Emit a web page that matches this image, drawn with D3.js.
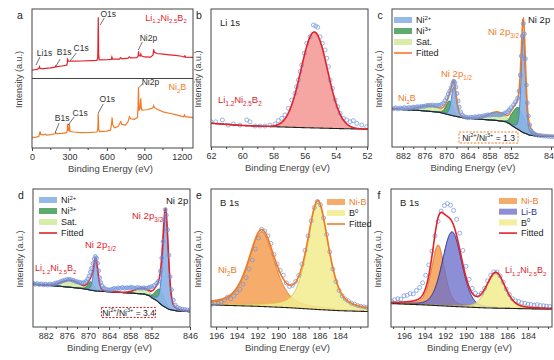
<!DOCTYPE html>
<html>
<head>
<meta charset="utf-8">
<script src="https://cdn.jsdelivr.net/npm/d3@7"></script>
<style>
  body { margin: 0; background: #fff; }
  text { font-family: "Liberation Sans", Arial, sans-serif; }
</style>
</head>
<body>
<script>
// ---------- data ----------

// a: survey spectra  [binding energy, intensity]
const surveyTicks = [0, 300, 600, 900, 1200]
const surveyLi = [[0,56],[20,56.3],[40,56.6],[55,57.2],[60,58.5],[65,57.4],[80,57],[110,57.3],[150,57.6],[185,58.2],[190,59],[195,58.3],[240,59],[278,59.6],[283,61],[285,64.5],[288,63],[292,62.4],[330,62.5],[400,62.6],[470,62.8],[520,63],[527,65],[531,94],[534,68],[538,63.4],[600,63.5],[635,63.8],[640,65.5],[645,64],[700,64],[710,65],[720,64.2],[770,64.6],[780,65.6],[790,64.8],[840,65],[850,66],[854,69.5],[858,66.5],[868,66.2],[872,67.5],[876,66.3],[900,65.5],[950,65.4],[970,67],[975,71],[980,69],[1000,68],[1050,67.5],[1100,67],[1150,66.6],[1200,66],[1220,65.5],[1225,66.3],[1230,65.4],[1290,65.2]]
const surveyNi2B = [[0,7.4],[30,7.8],[55,8.3],[60,10.5],[65,12],[70,9.8],[90,9.5],[110,10],[115,9.2],[150,9.6],[185,10.2],[190,11],[195,10.3],[240,10.5],[278,11],[283,13],[285,17.5],[288,13],[295,12.5],[300,17.3],[304,12],[330,11.5],[400,11],[470,11.2],[520,11.5],[527,13],[531,25],[534,14],[540,11.8],[600,12.2],[630,13],[638,18],[642,22],[646,17],[660,14.6],[690,15.5],[705,18],[712,19],[720,17],[750,16.5],[770,19],[780,22.5],[790,21],[820,20.6],[845,22],[850,30],[853,43.7],[856,33],[859,27.3],[866,28],[870,33],[872,35.8],[875,30],[880,27.3],[920,27.5],[960,28.5],[970,29],[975,30.5],[980,29.2],[1000,28],[1050,26],[1100,25],[1150,24],[1200,22.8],[1215,22.5],[1222,23.8],[1228,22.6],[1290,21.8]]
// peak labels: text position and leader line, in data units
const surveyLiNotes = [
  {t: 'Li1s', x: 100, y: 66.2, l: [[32, 59.7], [64, 65.5]]},
  {t: 'B1s', x: 257, y: 66.9, l: [[193, 59.0], [225, 64.0]]},
  {t: 'C1s', x: 394, y: 69.5, l: [[305, 62.6], [354, 68.3]]},
  {t: 'O1s', x: 611, y: 94.2, l: [[547, 88.5], [579, 93.5]]},
  {t: 'Ni2p', x: 933, y: 77.0, l: [[852, 70.5], [884, 76.3]]}
]
const surveyNiNotes = [
  {t: 'B1s', x: 241, y: 19.1, l: [[185, 10.8], [217, 18.0]]},
  {t: 'C1s', x: 386, y: 22.7, l: [[289, 16.5], [338, 22.3]]},
  {t: 'O1s', x: 603, y: 33.1, l: [[531, 25.2], [571, 31.7]]},
  {t: 'Ni2p', x: 949, y: 45.0, l: [[855, 43.4], [885, 46.0]]}
]

// b: Li 1s
const liTicks = [62, 60, 58, 56, 54, 52]
const liBackground = [[62,17.2],[60,15.6],[58,14.7],[56,14.0],[54,13.4],[51.9,12.9]]
const liPeaks = [{name: 'Li', c: 55.38, h: 69.5, w: 2.0, eta: 0}]
const liPoints = [[62.0,18.3],[61.7,18.3],[61.27,19.6],[60.9,15.9],[60.57,16.7],[60.14,15.9],[59.71,19.6],[59.5,18.3],[59.18,15.2],[58.86,15.2],[58.54,15.2],[58.22,15.9],[57.9,16.7],[57.69,19.1],[57.47,20.8],[57.26,23.2],[57.04,28],[56.83,34],[56.62,38.9],[56.51,43.7],[56.4,48.6],[56.29,54.6],[56.19,59.4],[56.02,67.9],[55.87,75.1],[55.65,79.9],[55.44,88.4],[55.29,87.7],[55.16,86.7],[55.01,79.9],[54.87,75.1],[54.69,70.3],[54.58,64.3],[54.48,58.2],[54.37,48.6],[54.22,42.5],[54.05,34],[53.88,29.2],[53.73,24.4],[53.52,20.8],[53.3,19.6],[53.09,18.3],[52.88,19.1],[52.66,17.1],[52.34,15.9],[52.02,14.7]]

// c, d: Ni 2p
const ni2pTicks = [882, 876, 870, 864, 858, 852, 846]
const ni2pMinor = [879, 873, 867, 861, 855]
const ni2bBackground = [[885.05,27.5],[878,26.6],[872,25.2],[868,22.6],[865,21],[860,20],[856,19.2],[853.5,18.3],[852.2,16.5],[851.2,13.5],[850.2,10.5],[849.2,8.6],[848,7.8],[844,7.5]]
const ni2bPeaks = [
  {name: 'Sat', c: 855.8, h: 6, w: 6, eta: 0},
  {name: 'Sat', c: 874.5, h: 4, w: 7, eta: 0},
  {name: 'Ni3+', c: 850.85, h: 16, w: 2.2, eta: 0.2},
  {name: 'Ni3+', c: 869.1, h: 10, w: 2.2, eta: 0.2},
  {name: 'Ni2+', c: 850.15, h: 70, w: 0.75, eta: 0.3},
  {name: 'Ni2+', c: 867.85, h: 21, w: 1.6, eta: 0.3}
]
const ni2bPoints = [[884.6,27.8],[884.0,28.4],[883.4,27.6],[882.8,28.2],[882.2,27.9],[881.6,28.5],[881.0,28.1],[880.4,28.6],[879.8,28.3],[879.2,28.9],[878.6,28.7],[878.0,29.2],[877.4,29.0],[876.8,29.5],[876.2,29.4],[875.6,29.9],[875.0,30.2],[874.4,30.1],[873.8,30.4],[873.2,30.0],[872.6,30.3],[872.0,30.1],[871.4,30.8],[870.8,31.6],[870.3,33.5],[869.8,35.8],[869.4,38.3],[869.0,40.6],[868.6,43.0],[868.2,45.8],[867.9,47.6],[867.6,46.5],[867.3,43.5],[867.0,38.8],[866.7,33.4],[866.4,28.9],[866.0,25.4],[865.5,23.0],[865.0,22.0],[864.4,21.5],[863.8,21.2],[863.2,21.6],[862.6,21.3],[862.0,21.9],[861.4,21.7],[860.8,22.2],[860.2,22.0],[859.6,22.6],[859.0,22.8],[858.4,23.3],[857.8,23.1],[857.2,23.6],[856.6,23.4],[856.0,23.5],[855.4,23.2],[854.8,23.4],[854.2,23.9],[853.6,24.6],[853.0,25.5],[852.5,26.8],[852.0,28.4],[851.6,30.6],[851.3,32.8],[851.0,35.4],[850.8,40.5],[850.6,52.0],[850.45,66.0],[850.3,80.5],[850.15,89.5],[850.0,82.0],[849.85,64.0],[849.7,45.0],[849.55,32.0],[849.4,22.5],[849.2,16.0],[849.0,12.0],[848.7,10.2],[848.4,9.2],[848.0,8.6],[847.6,8.3],[847.2,8.0],[846.8,7.9],[846.4,7.7],[846.0,7.6],[845.6,7.5],[845.2,7.6]]

const lnbBackground = [[885.6,31],[878,29.5],[872,28],[868,26.2],[864,25.5],[858,24.6],[854,23.8],[852.5,22.5],[851.3,19.5],[850.3,15.5],[849.3,12.8],[848,11.6],[846,11.1]]
const lnbPeaks = [
  {name: 'Sat', c: 854.5, h: 4, w: 5, eta: 0},
  {name: 'Sat', c: 875, h: 5, w: 6, eta: 0},
  {name: 'Ni3+', c: 850.7, h: 10, w: 1.6, eta: 0.2},
  {name: 'Ni3+', c: 869.2, h: 6, w: 2, eta: 0.2},
  {name: 'Ni2+', c: 849.8, h: 67, w: 1.0, eta: 0.3},
  {name: 'Ni2+', c: 867.8, h: 22, w: 1.5, eta: 0.3}
]
const lnbPoints = [[885.5,31.6],[885.0,31.0],[884.4,31.5],[883.8,30.8],[883.2,31.2],[882.6,30.6],[882.0,31.0],[881.4,30.5],[880.8,31.1],[880.2,30.7],[879.6,31.4],[879.0,31.9],[878.4,32.2],[877.8,32.8],[877.2,33.5],[876.6,33.9],[876.0,34.4],[875.4,34.6],[874.8,34.2],[874.2,33.8],[873.6,33.1],[873.0,32.7],[872.4,32.4],[871.8,31.9],[871.2,32.2],[870.6,33.0],[870.1,34.6],[869.7,36.9],[869.3,39.8],[869.0,42.5],[868.6,46.0],[868.2,49.3],[867.9,51.0],[867.6,49.8],[867.3,46.2],[867.0,40.8],[866.7,35.6],[866.4,32.2],[866.0,29.8],[865.5,28.3],[865.0,27.4],[864.4,27.0],[863.8,26.8],[863.2,27.4],[862.6,27.9],[862.0,27.6],[861.4,28.3],[860.8,28.0],[860.2,28.6],[859.6,28.1],[859.0,28.5],[858.4,28.2],[857.8,28.8],[857.2,28.4],[856.6,28.0],[856.0,28.6],[855.4,28.3],[854.8,28.1],[854.2,28.4],[853.6,28.0],[853.0,28.3],[852.5,28.8],[852.0,29.2],[851.6,30.0],[851.2,31.5],[850.9,33.2],[850.6,40.5],[850.4,50.0],[850.2,62.0],[850.0,77.5],[849.85,85.0],[849.7,81.0],[849.5,70.5],[849.3,52.0],[849.1,36.5],[848.9,27.0],[848.6,19.5],[848.3,15.8],[848.0,14.2],[847.6,13.4],[847.2,12.9],[846.8,12.6],[846.4,12.4],[846.0,12.3]]

// e, f: B 1s
const b1sTicks = [196, 194, 192, 190, 188, 186, 184]
const eMinor = [195, 193, 191, 189, 187, 185, 183, 182]
const fMinor = [197, 195, 193, 191, 189, 187, 185, 183, 182]
const ni2bBoronBackground = [[196.5,16],[192,15],[189,14],[186,12.6],[184,11.8],[181.3,11.2]]
const ni2bBoronPeaks = [
  {name: 'Ni-B', c: 191.6, h: 54, w: 3.0, eta: 0.5},
  {name: 'B0', c: 186.15, h: 77, w: 2.4, eta: 0.5}
]
const ni2bBoronPoints = [[196.4,16.5],[196.1,17.4],[195.8,17.0],[195.5,18.2],[195.2,19.5],[194.9,21.6],[194.6,20.4],[194.3,22.5],[194.0,24.8],[193.7,27.3],[193.4,31.0],[193.1,35.8],[192.8,42.0],[192.5,48.5],[192.2,56.5],[191.9,64.5],[191.6,70.8],[191.3,69.5],[191.0,66.0],[190.7,60.5],[190.4,52.5],[190.1,45.6],[189.8,41.0],[189.5,37.5],[189.2,32.0],[188.9,29.4],[188.6,30.2],[188.3,33.0],[188.0,37.5],[187.7,45.5],[187.4,55.5],[187.1,66.0],[186.8,77.0],[186.5,86.5],[186.2,91.0],[185.9,88.5],[185.6,79.0],[185.3,67.0],[185.0,54.5],[184.7,42.0],[184.4,33.0],[184.1,26.5],[183.8,22.5],[183.5,20.3],[183.2,18.9],[182.9,17.2],[182.6,16.5],[182.3,15.5],[182.0,15.0],[181.7,14.6],[181.4,14.2]]

const lnbBoronBackground = [[197.3,17],[194,16],[191,14.8],[188,13.8],[184,13.2],[181.6,13]]
const lnbBoronPeaks = [
  {name: 'Ni-B', c: 192.7, h: 44, w: 1.5, eta: 0.4},
  {name: 'Li-B', c: 191.35, h: 54, w: 2.2, eta: 0.2},
  {name: 'B0', c: 187.1, h: 25, w: 2.1, eta: 0.3}
]
const lnbBoronPoints = [[197.2,18.5],[196.9,19.8],[196.6,20.5],[196.3,20.2],[196.0,22.6],[195.7,23.0],[195.4,24.2],[195.1,24.0],[194.8,26.5],[194.5,28.6],[194.2,32.0],[193.9,37.5],[193.6,45.0],[193.3,55.0],[193.0,66.0],[192.7,76.5],[192.4,84.0],[192.1,88.0],[191.8,89.5],[191.5,88.2],[191.2,84.5],[190.9,78.0],[190.6,68.0],[190.3,55.5],[190.0,44.0],[189.7,34.5],[189.4,28.0],[189.1,24.5],[188.8,23.0],[188.5,24.5],[188.2,28.0],[187.9,33.5],[187.6,37.5],[187.3,40.0],[187.0,39.8],[186.7,37.0],[186.4,32.5],[186.1,27.5],[185.8,23.5],[185.5,20.5],[185.2,19.0],[184.9,18.5],[184.6,17.5],[184.3,17.2],[184.0,16.6],[183.7,16.3],[183.4,15.8],[183.1,16.2],[182.8,15.6],[182.5,15.4],[182.2,15.1],[181.9,14.9]]

// ---------- styles ----------
const RED = '#e3222b'
const ORANGE = '#f27a27'
const DOT = '#6f94dc'
const compStyle = {
  'Li':   {fill: '#f5a5a2', stroke: 'none', op: 1},
  'Ni2+': {fill: '#8cb4e8', stroke: '#4c82d0', op: 0.92},
  'Ni3+': {fill: '#4fa465', stroke: '#2c7b42', op: 0.92},
  'Sat':  {fill: '#d6eca4', stroke: '#a6cb66', op: 0.92},
  'Ni-B': {fill: '#f5a35a', stroke: '#e2782a', op: 0.9},
  'Li-B': {fill: '#6c6fcb', stroke: '#23279a', op: 0.78},
  'B0':   {fill: '#f2ec8e', stroke: '#d9c73a', op: 0.85}
}

const W = 554, H = 360
const svg = d3.select('body').append('svg').attr('width', W).attr('height', H)

const boxes = {
  a: {x: 32, y: 9, w: 161, h: 139},
  b: {x: 211, y: 9, w: 157, h: 138},
  c: {x: 392, y: 9, w: 166, h: 138},
  d: {x: 33, y: 189, w: 157, h: 138},
  e: {x: 211, y: 189, w: 157, h: 138},
  f: {x: 391, y: 189, w: 161, h: 138}
}

// pseudo-Voigt peak
function pv(x, p) {
  const t = (x - p.c) / p.w
  return p.h * ((1 - p.eta) * Math.exp(-4 * Math.LN2 * t * t) + p.eta / (1 + 4 * t * t))
}

// text with sub / superscripts
function rich(sel, parts, size) {
  let shift = 0
  parts.forEach(p => {
    const [t, m] = typeof p === 'string' ? [p, ''] : p
    const target = m === 'sub' ? size * 0.28 : m === 'sup' ? -size * 0.4 : 0
    sel.append('tspan').text(t)
      .attr('dy', target - shift)
      .attr('font-size', m ? size * 0.66 : size)
    shift = target
  })
  return sel
}
function label(x, y, parts, opt = {}) {
  const size = opt.size || 9
  const t = svg.append('text').attr('x', x).attr('y', y)
    .attr('fill', opt.color || '#222')
    .attr('text-anchor', opt.anchor || 'start')
    .attr('font-size', size)
  return rich(t, parts, size)
}

const LNB = ['Li', ['1.2', 'sub'], 'Ni', ['2.5', 'sub'], 'B', ['2', 'sub']]
const N2B = ['Ni', ['2', 'sub'], 'B']

function frame(key, letter) {
  const b = boxes[key]
  svg.append('clipPath').attr('id', 'clip-' + key)
    .append('rect').attr('x', b.x).attr('y', b.y).attr('width', b.w).attr('height', b.h)
  svg.append('text').attr('x', b.x - 12).attr('y', b.y + 10)
    .attr('font-size', 10.5).attr('fill', '#222').attr('text-anchor', 'middle').text(letter)
  svg.append('text')
    .attr('transform', `translate(${b.x - 10},${b.y + b.h / 2 + 1}) rotate(-90)`)
    .attr('text-anchor', 'middle').attr('font-size', 9).attr('fill', '#444')
    .text('Intensity (a.u.)')
  svg.append('text').attr('x', b.x + b.w / 2 - 2).attr('y', b.y + b.h + 24)
    .attr('text-anchor', 'middle').attr('font-size', 9.5).attr('fill', '#444')
    .text('Binding Energy (eV)')
  return svg.append('g').attr('clip-path', `url(#clip-${key})`)
}

function axis(key, x, ticks, minor) {
  const b = boxes[key]
  const g = svg.append('g').attr('transform', `translate(0,${b.y + b.h})`)
    .call(d3.axisBottom(x).tickValues(ticks).tickSize(3).tickPadding(3).tickFormat(d3.format('d')))
  g.select('.domain').remove()
  g.selectAll('line').attr('stroke', '#444')
  g.selectAll('text').attr('font-size', 9).attr('fill', '#333')
    .style('font-family', '"Liberation Sans", Arial, sans-serif')
  g.selectAll('line.minor').data(minor).join('line').attr('class', 'minor')
    .attr('x1', d => x(d)).attr('x2', d => x(d)).attr('y1', 0).attr('y2', 2)
    .attr('stroke', '#444')
  svg.append('rect').attr('x', b.x).attr('y', b.y).attr('width', b.w).attr('height', b.h)
    .attr('fill', 'none').attr('stroke', '#444').attr('stroke-width', 1)
}

// generic fitted-spectrum panel
function fitted(key, x, bgPts, peaks, points, fitColor, dotsOnTop) {
  const b = boxes[key]
  const y = d3.scaleLinear().domain([0, 100]).range([b.y + b.h, b.y])
  const bg = d3.scaleLinear().domain(bgPts.map(d => d[0])).range(bgPts.map(d => d[1]))
  const dom = x.domain()
  const lo = Math.min(dom[0], dom[dom.length - 1]) - 1
  const hi = Math.max(dom[0], dom[dom.length - 1]) + 1
  const grid = d3.range(lo, hi, (hi - lo) / 900)
  const g = svg.select(`g[clip-path="url(#clip-${key})"]`)

  peaks.forEach(p => {
    const s = compStyle[p.name]
    const pts = grid.map(e => [e, bg(e), bg(e) + pv(e, p)])
    g.append('path').datum(pts)
      .attr('d', d3.area().x(d => x(d[0])).y0(d => y(d[1])).y1(d => y(d[2])))
      .attr('fill', s.fill).attr('fill-opacity', s.op)
    if (s.stroke !== 'none') {
      g.append('path').datum(pts)
        .attr('d', d3.line().x(d => x(d[0])).y(d => y(d[2])))
        .attr('fill', 'none').attr('stroke', s.stroke).attr('stroke-width', 1)
    }
  })
  g.append('path').datum(grid)
    .attr('d', d3.line().x(e => x(e)).y(e => y(bg(e))))
    .attr('fill', 'none').attr('stroke', '#222').attr('stroke-width', 1.1)

  const fit = grid.map(e => [e, bg(e) + d3.sum(peaks, p => pv(e, p))])
  const drawFit = () => g.append('path').datum(fit)
    .attr('d', d3.line().x(d => x(d[0])).y(d => y(d[1])))
    .attr('fill', 'none').attr('stroke', fitColor).attr('stroke-width', 1.6)
  const drawDots = () => g.selectAll(null).data(points).join('circle')
    .attr('cx', d => x(d[0])).attr('cy', d => y(d[1])).attr('r', 2)
    .attr('fill', dotsOnTop ? 'rgba(110,150,220,0.35)' : 'none')
    .attr('stroke', DOT).attr('stroke-width', 0.8).attr('stroke-opacity', 0.9)
  if (dotsOnTop) { drawFit(); drawDots() } else { drawDots(); drawFit() }
  return y
}

function legend(x0, y0, rows, step) {
  rows.forEach((r, i) => {
    const cy = y0 + i * step
    if (r.line) {
      svg.append('line').attr('x1', x0).attr('x2', x0 + 18).attr('y1', cy).attr('y2', cy)
        .attr('stroke', r.line).attr('stroke-width', 1.6)
    } else {
      const s = compStyle[r.key]
      svg.append('rect').attr('x', x0).attr('y', cy - 3).attr('width', 18).attr('height', 6)
        .attr('fill', s.fill).attr('fill-opacity', s.op)
    }
    label(x0 + 22, cy + 3.2, r.text, {color: r.color || '#222', size: 9})
  })
}

function ratioBox(cx, cy, w, h, color, text) {
  svg.append('rect').attr('x', cx - w / 2).attr('y', cy - h / 2).attr('width', w).attr('height', h)
    .attr('fill', '#fff').attr('stroke', color).attr('stroke-width', 1).attr('stroke-dasharray', '2,1.5')
  const t = svg.append('text').attr('x', cx).attr('y', cy + 3).attr('text-anchor', 'middle')
    .attr('font-size', 8.5).attr('fill', '#222')
  rich(t, text, 8.5)
}

// ---------- a ----------
{
  const b = boxes.a
  const g = frame('a', 'a')
  const x = d3.scaleLinear().domain([0, 1290]).range([b.x, b.x + b.w])
  const y = d3.scaleLinear().domain([0, 100]).range([b.y + b.h, b.y])
  const line = d3.line().x(d => x(d[0])).y(d => y(d[1]))
  g.append('path').datum(surveyLi).attr('d', line).attr('fill', 'none')
    .attr('stroke', RED).attr('stroke-width', 1.2)
  g.append('path').datum(surveyNi2B).attr('d', line).attr('fill', 'none')
    .attr('stroke', ORANGE).attr('stroke-width', 1.2)
  svg.append('line').attr('x1', b.x).attr('x2', b.x + b.w).attr('y1', y(50)).attr('y2', y(50))
    .attr('stroke', '#444').attr('stroke-width', 1)
  surveyLiNotes.concat(surveyNiNotes).forEach(n => {
    svg.append('line').attr('x1', x(n.l[0][0])).attr('y1', y(n.l[0][1]))
      .attr('x2', x(n.l[1][0])).attr('y2', y(n.l[1][1]))
      .attr('stroke', '#333').attr('stroke-width', 0.7)
    svg.append('text').attr('x', x(n.x)).attr('y', y(n.y)).attr('text-anchor', 'middle')
      .attr('font-size', 8.5).attr('fill', '#333').text(n.t)
  })
  axis('a', x, surveyTicks, [150, 450, 750, 1050])
  label(x(908), y(91.4), LNB, {color: RED, size: 9})
  label(x(1093), y(41.7), N2B, {color: ORANGE, size: 9})
}

// ---------- b ----------
{
  const b = boxes.b
  frame('b', 'b')
  const x = d3.scaleLinear().domain([62, 51.94]).range([b.x, b.x + b.w])
  fitted('b', x, liBackground, liPeaks, liPoints, RED, false)
  axis('b', x, liTicks, [61, 59, 57, 55, 53])
  label(b.x + 9, b.y + 17, ['Li 1s'], {size: 9.5})
  label(b.x + 7, b.y + 94, LNB, {color: RED, size: 9.5})
}

// ---------- c ----------
{
  const b = boxes.c
  frame('c', 'c')
  const x = d3.scaleLinear().domain([885.05, 852, 846]).range([b.x, 511, 551])
  fitted('c', x, ni2bBackground, ni2bPeaks, ni2bPoints, ORANGE, true)
  axis('c', x, ni2pTicks, ni2pMinor)
  legend(b.x + 2, b.y + 11, [
    {key: 'Ni2+', text: ['Ni', ['2+', 'sup']]},
    {key: 'Ni3+', text: ['Ni', ['3+', 'sup']]},
    {key: 'Sat', text: ['Sat.']},
    {line: ORANGE, text: ['Fitted']}
  ], 11)
  label(b.x + 136, b.y + 14, ['Ni 2p'], {size: 9.5})
  label(b.x + 96, b.y + 26, ['Ni 2p', ['3/2', 'sub']], {color: ORANGE, size: 9.5})
  label(b.x + 49, b.y + 68, ['Ni 2p', ['1/2', 'sub']], {color: ORANGE, size: 9.5})
  label(b.x + 6, b.y + 92, N2B, {color: ORANGE, size: 9})
  ratioBox(488.5, 137.5, 59, 11, ORANGE, ['Ni', ['2+', 'sup'], '/Ni', ['3+', 'sup'], ' = 1.3'])
}

// ---------- d ----------
{
  const b = boxes.d
  frame('d', 'd')
  const x = d3.scaleLinear().domain([885.6, 852, 846]).range([b.x, 151.5, 190])
  fitted('d', x, lnbBackground, lnbPeaks, lnbPoints, RED, true)
  axis('d', x, ni2pTicks, ni2pMinor)
  legend(b.x + 6, b.y + 11, [
    {key: 'Ni2+', text: ['Ni', ['2+', 'sup']]},
    {key: 'Ni3+', text: ['Ni', ['3+', 'sup']]},
    {key: 'Sat', text: ['Sat.']},
    {line: RED, text: ['Fitted']}
  ], 11)
  label(b.x + 133, b.y + 15, ['Ni 2p'], {size: 9.5})
  label(b.x + 99, b.y + 30, ['Ni 2p', ['3/2', 'sub']], {color: RED, size: 9.5})
  label(b.x + 52, b.y + 59, ['Ni 2p', ['1/2', 'sub']], {color: RED, size: 9.5})
  label(b.x + 2, b.y + 82, LNB, {color: RED, size: 9})
  ratioBox(128.5, 312.5, 54, 10, RED, ['Ni', ['2+', 'sup'], '/Ni', ['3+', 'sup'], ' = 3.4'])
}

// ---------- e ----------
{
  const b = boxes.e
  frame('e', 'e')
  const x = d3.scaleLinear().domain([196.5, 181.3]).range([b.x, b.x + b.w])
  fitted('e', x, ni2bBoronBackground, ni2bBoronPeaks, ni2bBoronPoints, ORANGE, false)
  axis('e', x, b1sTicks, eMinor)
  legend(b.x + 116, b.y + 13, [
    {key: 'Ni-B', text: ['Ni-B'], color: ORANGE},
    {key: 'B0', text: ['B', ['0', 'sup']]},
    {line: ORANGE, text: ['Fitted']}
  ], 11)
  label(b.x + 9, b.y + 17, ['B 1s'], {size: 9.5})
  label(b.x + 7, b.y + 84, N2B, {color: ORANGE, size: 9.5})
}

// ---------- f ----------
{
  const b = boxes.f
  frame('f', 'f')
  const x = d3.scaleLinear().domain([197.26, 181.67]).range([b.x, b.x + b.w])
  fitted('f', x, lnbBoronBackground, lnbBoronPeaks, lnbBoronPoints, RED, false)
  axis('f', x, b1sTicks, fMinor)
  legend(b.x + 108, b.y + 12, [
    {key: 'Ni-B', text: ['Ni-B'], color: ORANGE},
    {key: 'Li-B', text: ['Li-B'], color: '#3236a6'},
    {key: 'B0', text: ['B', ['0', 'sup']]},
    {line: RED, text: ['Fitted']}
  ], 10.7)
  label(b.x + 9, b.y + 17, ['B 1s'], {size: 9.5})
  label(b.x + 114, b.y + 84, LNB, {color: RED, size: 9})
}
</script>
</body>
</html>
